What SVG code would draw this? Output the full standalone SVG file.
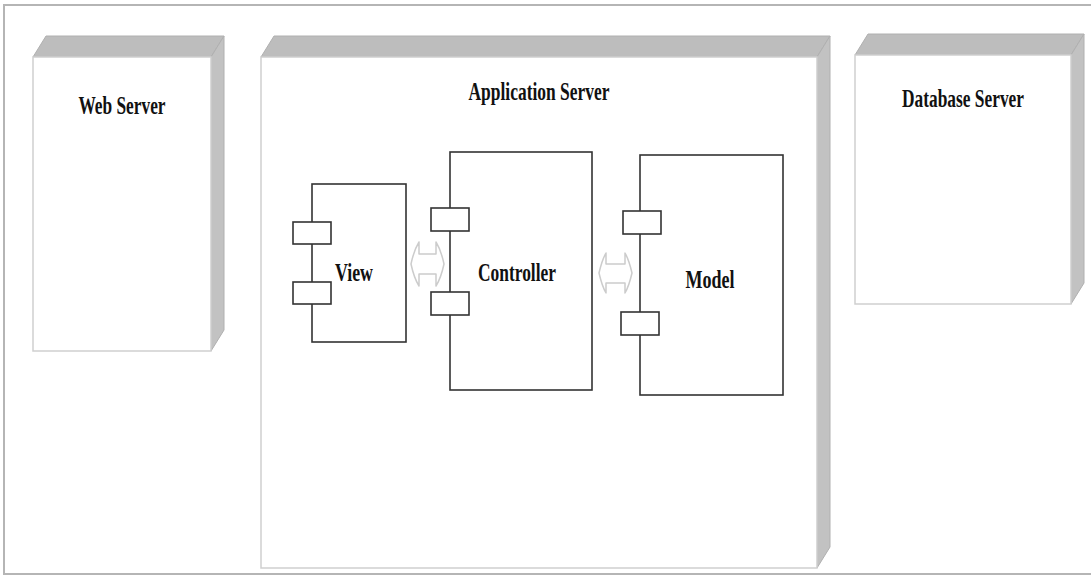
<svg xmlns="http://www.w3.org/2000/svg" width="1091" height="577" viewBox="0 0 1091 577">
  <style>
    .front { fill: #ffffff; stroke: #cfcfcf; stroke-width: 1.5; }
    .top { fill: #bdbdbd; stroke: #b0b0b0; stroke-width: 1; }
    .side { fill: #c2c2c2; stroke: #b0b0b0; stroke-width: 1; }
    .comp { fill: #ffffff; stroke: #333333; stroke-width: 1.6; }
    .port { fill: #ffffff; stroke: #333333; stroke-width: 1.6; }
    .label { font-family: "Liberation Serif", "Times New Roman", serif; font-weight: bold; font-size: 25px; fill: #111111; text-anchor: middle; }
    .link { fill: #ffffff; stroke: #cccccc; stroke-width: 1.5; stroke-linejoin: round; }
  </style>

  <rect x="0" y="0" width="1091" height="577" fill="#ffffff"/>
  <!-- outer frame -->
  <rect x="4" y="5" width="1090" height="569" fill="none" stroke="#b5b5b5" stroke-width="2"/>

  <!-- Web Server node -->
  <g id="web-server">
    <polygon class="top" points="33,57 46,36 224,36 211,57"/>
    <polygon class="side" points="211,57 224,36 224,330 211,351"/>
    <rect class="front" x="33" y="57" width="178" height="294"/>
    <text class="label" x="122" y="114" textLength="87" lengthAdjust="spacingAndGlyphs">Web Server</text>
  </g>

  <!-- Application Server node -->
  <g id="application-server">
    <polygon class="top" points="261,57 274,36 830,36 817,57"/>
    <polygon class="side" points="817,57 830,36 830,547 817,568"/>
    <rect class="front" x="261" y="57" width="556" height="511"/>
    <text class="label" x="539" y="100" textLength="141" lengthAdjust="spacingAndGlyphs">Application Server</text>
  </g>

  <!-- Database Server node -->
  <g id="database-server">
    <polygon class="top" points="855,55 868,34 1084,34 1071,55"/>
    <polygon class="side" points="1071,55 1084,34 1084,283 1071,304"/>
    <rect class="front" x="855" y="55" width="216" height="249"/>
    <text class="label" x="963" y="107" textLength="122" lengthAdjust="spacingAndGlyphs">Database Server</text>
  </g>

  <!-- View component -->
  <g id="view">
    <rect class="comp" x="312" y="184" width="94" height="158"/>
    <rect class="port" x="293" y="222" width="38" height="22"/>
    <rect class="port" x="293" y="282" width="38" height="22"/>
    <text class="label" x="354" y="281" textLength="38" lengthAdjust="spacingAndGlyphs">View</text>
  </g>

  <!-- Controller component -->
  <g id="controller">
    <rect class="comp" x="450" y="152" width="142" height="238"/>
    <rect class="port" x="431" y="208" width="38" height="23"/>
    <rect class="port" x="431" y="292" width="38" height="23"/>
    <text class="label" x="517" y="281" textLength="78" lengthAdjust="spacingAndGlyphs">Controller</text>
  </g>

  <!-- Model component -->
  <g id="model">
    <rect class="comp" x="640" y="155" width="143" height="240"/>
    <rect class="port" x="623" y="211" width="38" height="23"/>
    <rect class="port" x="621" y="312" width="38" height="23"/>
    <text class="label" x="710" y="288" textLength="49" lengthAdjust="spacingAndGlyphs">Model</text>
  </g>

  <!-- connectors: hollow double-headed arrows -->
  <g id="connectors">
    <path class="link" d="M411,264 Q414,250 419,242 L419,254 L436,254 L436,242 Q441,250 444,264 Q441,278 436,286 L436,274 L419,274 L419,286 Q414,278 411,264 Z"/>
    <path class="link" d="M599,273 Q602,260 606,253 L606,264 L625,264 L625,253 Q629,260 632,273 Q629,286 625,293 L625,283 L606,283 L606,293 Q602,286 599,273 Z"/>
  </g>
</svg>
